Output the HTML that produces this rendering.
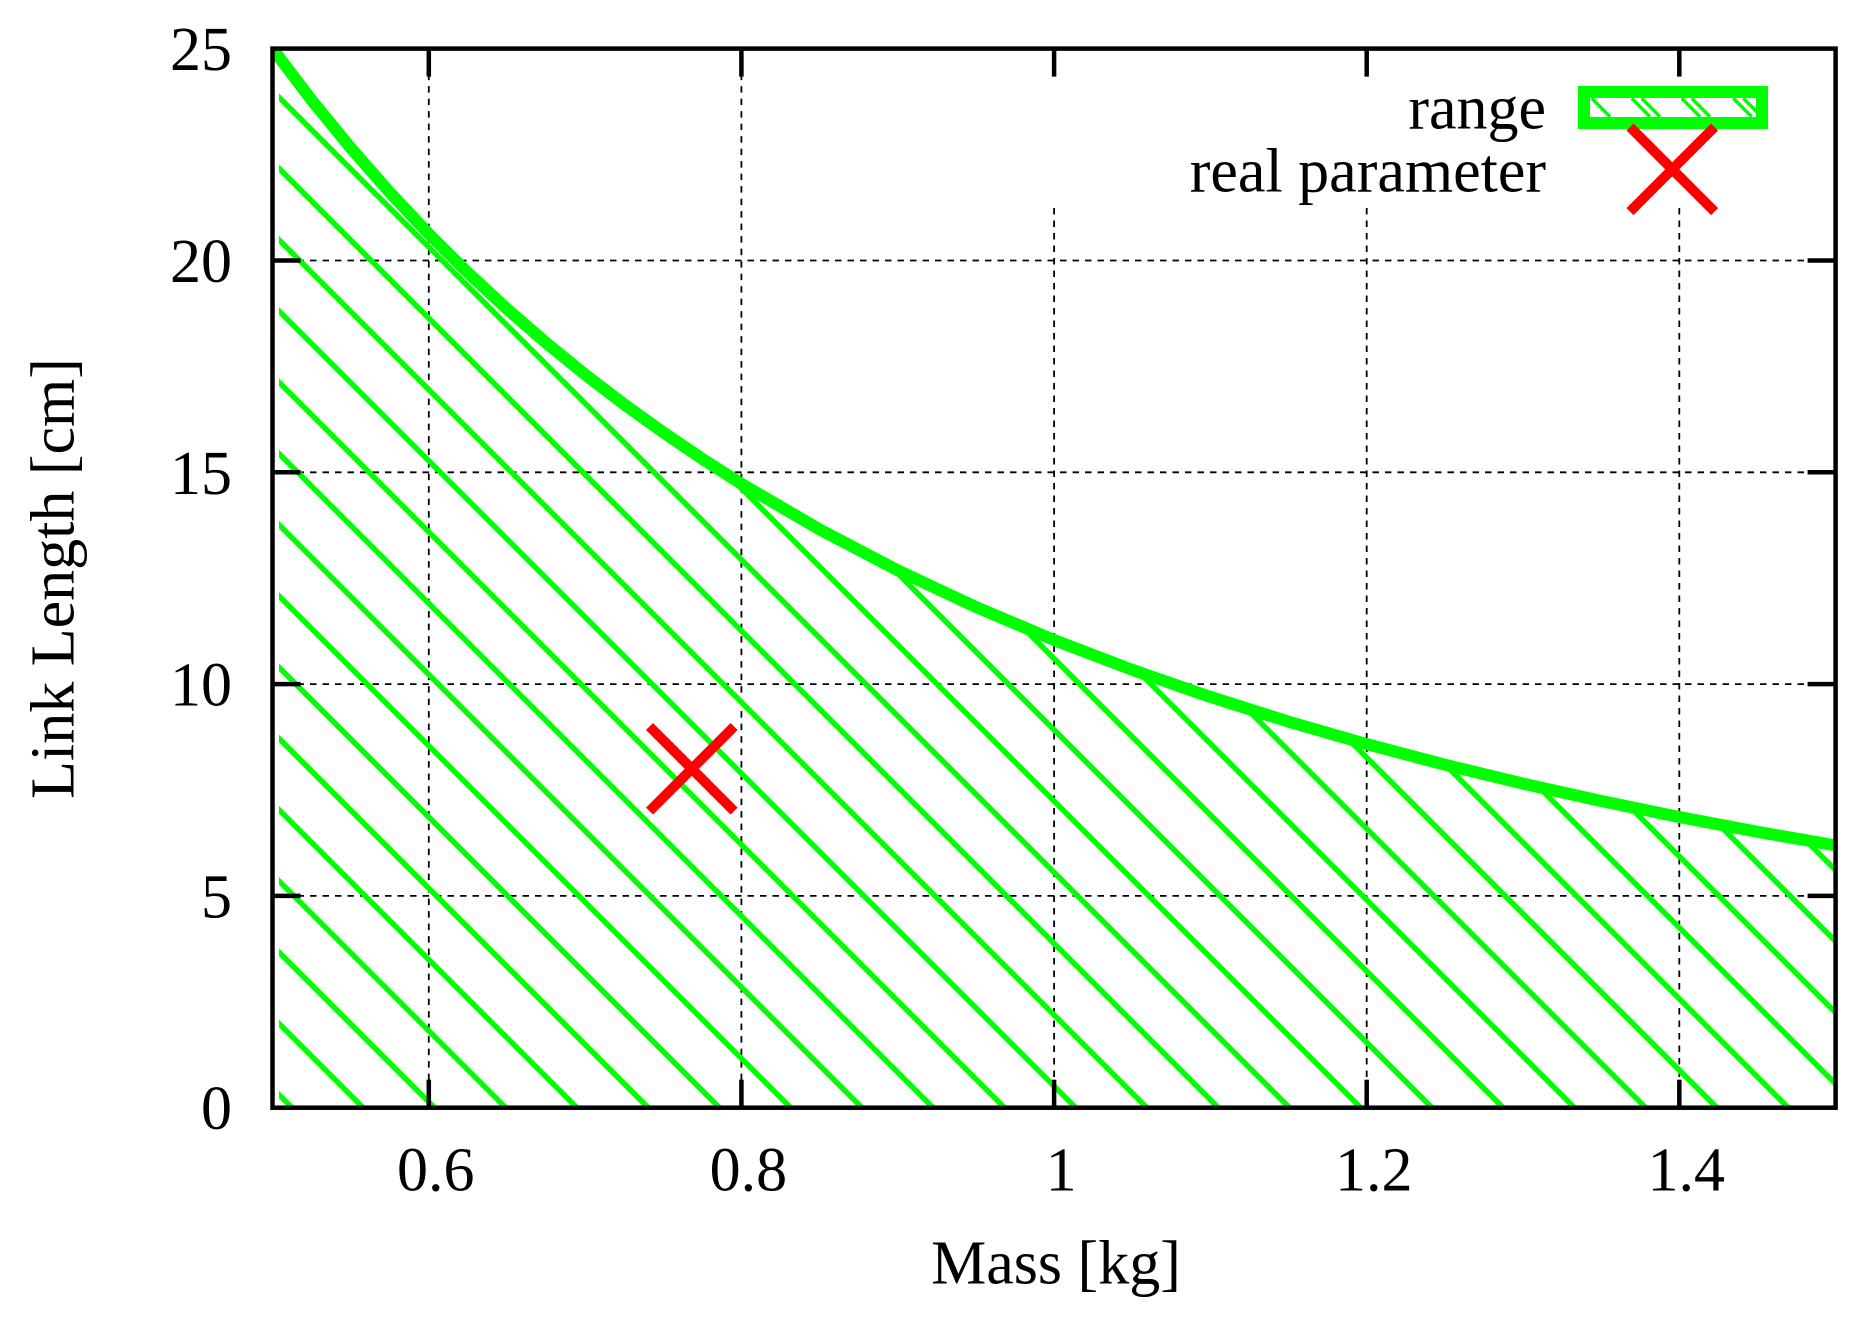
<!DOCTYPE html>
<html>
<head>
<meta charset="utf-8">
<style>
html,body{margin:0;padding:0;background:#fff;width:1868px;height:1320px;overflow:hidden}
svg{display:block}
text{font-family:"Liberation Serif","DejaVu Serif",serif;font-size:62px;fill:#000}
</style>
</head>
<body>
<svg width="1868" height="1320" viewBox="0 0 1868 1320" xmlns="http://www.w3.org/2000/svg">
<defs>
  <clipPath id="under">
    <path d="M272.5,48.6 L311.6,100.1 L350.7,147.9 L389.8,192.4 L428.8,233.9 L467.9,272.7 L507.0,308.9 L546.1,342.8 L585.1,374.5 L624.2,404.4 L663.3,432.4 L702.4,458.9 L741.4,483.8 L819.6,529.4 L897.7,570.3 L975.9,607.0 L1054.1,640.0 L1132.2,669.8 L1210.4,696.9 L1288.5,721.6 L1366.7,744.1 L1444.9,764.7 L1523.0,783.6 L1601.2,801.0 L1679.3,817.0 L1757.5,831.8 L1835.6,845.4 L1835.6,1107.7 L272.5,1107.7 Z"/>
  </clipPath>
  <clipPath id="inner">
    <rect x="279" y="40" width="1557" height="1067"/>
  </clipPath>
  <clipPath id="plot">
    <rect x="272.5" y="48.6" width="1563.1" height="1059.1"/>
  </clipPath>
  <clipPath id="keyin">
    <rect x="1590" y="98" width="166" height="19"/>
  </clipPath>
</defs>

<rect x="0" y="0" width="1868" height="1320" fill="#fff"/>

<!-- grid -->
<g stroke="#000" stroke-width="1.8" stroke-dasharray="6.5 6" fill="none">
  <line x1="428.8" y1="48.6" x2="428.8" y2="1107.7"/>
  <line x1="741.4" y1="48.6" x2="741.4" y2="1107.7"/>
  <line x1="1054.1" y1="208" x2="1054.1" y2="1107.7"/>
  <line x1="1366.7" y1="208" x2="1366.7" y2="1107.7"/>
  <line x1="1679.3" y1="208" x2="1679.3" y2="1107.7"/>
  <line x1="272.5" y1="895.9" x2="1835.6" y2="895.9"/>
  <line x1="272.5" y1="684.1" x2="1835.6" y2="684.1"/>
  <line x1="272.5" y1="472.3" x2="1835.6" y2="472.3"/>
  <line x1="272.5" y1="260.5" x2="1835.6" y2="260.5"/>
</g>

<!-- hatch fill -->
<g clip-path="url(#inner)">
<g clip-path="url(#under)">
<path stroke="#00ff00" stroke-width="5.5" fill="none" d="
M250,1065.75 L294.25,1110
M250,994.5 L365.5,1110
M250,923.25 L436.75,1110
M250,852 L508,1110
M250,780.75 L579.25,1110
M250,709.5 L650.5,1110
M250,638.25 L721.75,1110
M250,567 L793,1110
M250,495.75 L864.25,1110
M250,424.5 L935.5,1110
M250,353.25 L1006.75,1110
M250,282 L1078,1110
M250,210.75 L1149.25,1110
M250,139.5 L1220.5,1110
M250,68.25 L1291.75,1110
M293,40 L1363,1110
M364.25,40 L1434.25,1110
M435.5,40 L1505.5,1110
M506.75,40 L1576.75,1110
M578,40 L1648,1110
M649.25,40 L1719.25,1110
M720.5,40 L1790.5,1110
M791.75,40 L1850,1098.25
M863,40 L1850,1027
M934.25,40 L1850,955.75
M1005.5,40 L1850,884.5
M1076.75,40 L1850,813.25"/>
</g>
</g>

<!-- curve -->
<g clip-path="url(#plot)">
<path fill="none" stroke="#00ff00" stroke-width="12" stroke-linejoin="round" d="M272.5,48.6 L311.6,100.1 L350.7,147.9 L389.8,192.4 L428.8,233.9 L467.9,272.7 L507.0,308.9 L546.1,342.8 L585.1,374.5 L624.2,404.4 L663.3,432.4 L702.4,458.9 L741.4,483.8 L819.6,529.4 L897.7,570.3 L975.9,607.0 L1054.1,640.0 L1132.2,669.8 L1210.4,696.9 L1288.5,721.6 L1366.7,744.1 L1444.9,764.7 L1523.0,783.6 L1601.2,801.0 L1679.3,817.0 L1757.5,831.8 L1835.6,845.4"/>
</g>

<!-- real parameter point -->
<g stroke="#ff0000" stroke-width="10" stroke-linecap="butt">
  <line x1="649.5" y1="726.5" x2="734.1" y2="811.1"/>
  <line x1="649.5" y1="811.1" x2="734.1" y2="726.5"/>
</g>

<!-- key background -->
<rect x="1000" y="51" width="833" height="157" fill="#fff"/>

<!-- key: range -->
<text x="1546" y="128.5" text-anchor="end">range</text>
<rect x="1584" y="92" width="178" height="31" fill="#fff" stroke="#00ff00" stroke-width="12"/>
<g clip-path="url(#keyin)" stroke="#00ff00" stroke-width="3.5">
  <line x1="1591.7" y1="98.3" x2="1610" y2="116.7"/>
  <line x1="1631.7" y1="98.3" x2="1650" y2="116.7"/>
  <line x1="1641.7" y1="98.3" x2="1660" y2="116.7"/>
  <line x1="1681.7" y1="98.3" x2="1700" y2="116.7"/>
  <line x1="1691.7" y1="98.3" x2="1710" y2="116.7"/>
  <line x1="1733.3" y1="98.3" x2="1751.7" y2="116.7"/>
  <line x1="1743.3" y1="98.3" x2="1762" y2="117"/>
</g>

<!-- key: real parameter -->
<text x="1546" y="191.7" text-anchor="end">real parameter</text>
<g stroke="#ff0000" stroke-width="10" stroke-linecap="butt">
  <line x1="1630" y1="127" x2="1714.6" y2="211.6"/>
  <line x1="1630" y1="211.6" x2="1714.6" y2="127"/>
</g>

<!-- border -->
<rect x="272.5" y="48.6" width="1563.1" height="1059.1" fill="none" stroke="#000" stroke-width="4.5"/>

<!-- ticks -->
<g stroke="#000" stroke-width="4.5">
  <line x1="428.8" y1="1107.7" x2="428.8" y2="1079.7"/>
  <line x1="741.4" y1="1107.7" x2="741.4" y2="1079.7"/>
  <line x1="1054.1" y1="1107.7" x2="1054.1" y2="1079.7"/>
  <line x1="1366.7" y1="1107.7" x2="1366.7" y2="1079.7"/>
  <line x1="1679.3" y1="1107.7" x2="1679.3" y2="1079.7"/>
  <line x1="428.8" y1="48.6" x2="428.8" y2="76.6"/>
  <line x1="741.4" y1="48.6" x2="741.4" y2="76.6"/>
  <line x1="1054.1" y1="48.6" x2="1054.1" y2="76.6"/>
  <line x1="1366.7" y1="48.6" x2="1366.7" y2="76.6"/>
  <line x1="1679.3" y1="48.6" x2="1679.3" y2="76.6"/>
  <line x1="272.5" y1="895.9" x2="300.5" y2="895.9"/>
  <line x1="272.5" y1="684.1" x2="300.5" y2="684.1"/>
  <line x1="272.5" y1="472.3" x2="300.5" y2="472.3"/>
  <line x1="272.5" y1="260.5" x2="300.5" y2="260.5"/>
  <line x1="1835.6" y1="895.9" x2="1807.6" y2="895.9"/>
  <line x1="1835.6" y1="684.1" x2="1807.6" y2="684.1"/>
  <line x1="1835.6" y1="472.3" x2="1807.6" y2="472.3"/>
  <line x1="1835.6" y1="260.5" x2="1807.6" y2="260.5"/>
</g>

<!-- y tick labels -->
<g text-anchor="end">
  <text x="232" y="1129.2">0</text>
  <text x="232" y="917.4">5</text>
  <text x="232" y="705.6">10</text>
  <text x="232" y="493.8">15</text>
  <text x="232" y="282">20</text>
  <text x="232" y="70.1">25</text>
</g>

<!-- x tick labels -->
<g text-anchor="middle">
  <text x="435.8" y="1190.5">0.6</text>
  <text x="748.4" y="1190.5">0.8</text>
  <text x="1061.1" y="1190.5">1</text>
  <text x="1373.7" y="1190.5">1.2</text>
  <text x="1686.3" y="1190.5">1.4</text>
</g>

<!-- axis titles -->
<text x="1056" y="1283.5" text-anchor="middle">Mass [kg]</text>
<text transform="translate(73.3,578.5) rotate(-90)" x="0" y="0" text-anchor="middle">Link Length [cm]</text>
</svg>
</body>
</html>
